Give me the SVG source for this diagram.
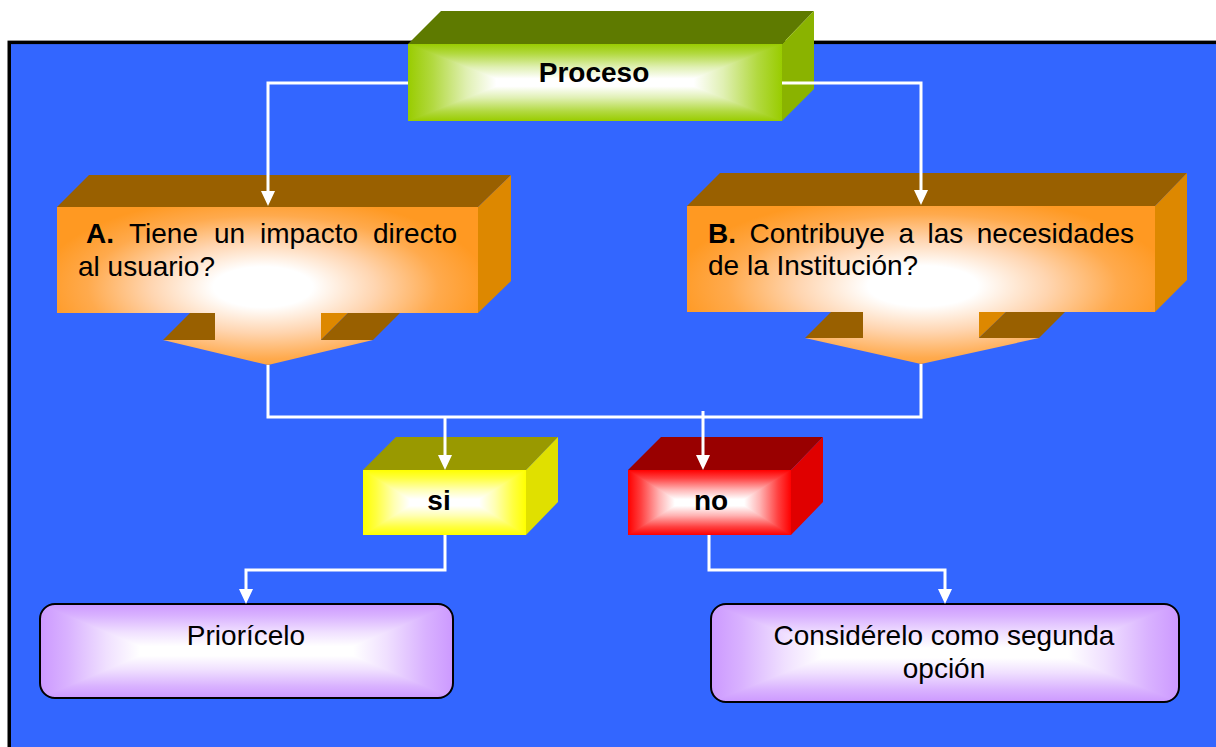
<svg xmlns="http://www.w3.org/2000/svg" width="1216" height="747" viewBox="0 0 1216 747">
  <style>
    .lbl { font-family: "Liberation Sans", Arial, Helvetica, sans-serif; font-size: 28px; fill: #000; }
    .b { font-weight: bold; }
    .mid { text-anchor: middle; }
    .wire { fill: none; stroke: #fff; stroke-width: 3; marker-end: url(#arrow); }
    .wire-plain { fill: none; stroke: #fff; stroke-width: 3; }
    .pill { fill: none; stroke: #000; stroke-width: 2; }
  </style>
  <defs>
    <marker id="arrow" markerUnits="userSpaceOnUse" markerWidth="15" markerHeight="14" viewBox="0 0 15 14" refX="11" refY="7" orient="auto">
      <path d="M0,0 L15,7 L0,14 Z" fill="#fff"/>
    </marker>

    <!-- green block -->
    <linearGradient id="gGreenH" x1="0" y1="0" x2="1" y2="0">
      <stop offset="0" stop-color="#99CC00"/><stop offset="0.066" stop-color="#B2D940"/><stop offset="0.157" stop-color="#E0F0B3"/><stop offset="0.236" stop-color="#FFFFFF"/>
      <stop offset="0.764" stop-color="#FFFFFF"/><stop offset="0.843" stop-color="#E0F0B3"/><stop offset="0.934" stop-color="#B2D940"/><stop offset="1" stop-color="#99CC00"/>
    </linearGradient>
    <linearGradient id="gGreenDown" x1="0" y1="0" x2="0" y2="1">
      <stop offset="0" stop-color="#99CC00"/><stop offset="0.25" stop-color="#B2D940"/><stop offset="0.6" stop-color="#E0F0B3"/><stop offset="0.9" stop-color="#FFFFFF"/>
    </linearGradient>
    <linearGradient id="gGreenUp" href="#gGreenDown" x1="0" y1="1" x2="0" y2="0"/>

    <!-- yellow block -->
    <linearGradient id="gYellowH" x1="0" y1="0" x2="1" y2="0">
      <stop offset="0" stop-color="#FFFF00"/><stop offset="0.080" stop-color="#FFFF40"/><stop offset="0.191" stop-color="#FFFFB3"/><stop offset="0.287" stop-color="#FFFFFF"/>
      <stop offset="0.713" stop-color="#FFFFFF"/><stop offset="0.809" stop-color="#FFFFB3"/><stop offset="0.920" stop-color="#FFFF40"/><stop offset="1" stop-color="#FFFF00"/>
    </linearGradient>
    <linearGradient id="gYellowDown" x1="0" y1="0" x2="0" y2="1">
      <stop offset="0" stop-color="#FFFF00"/><stop offset="0.25" stop-color="#FFFF40"/><stop offset="0.6" stop-color="#FFFFB3"/><stop offset="0.9" stop-color="#FFFFFF"/>
    </linearGradient>
    <linearGradient id="gYellowUp" href="#gYellowDown" x1="0" y1="1" x2="0" y2="0"/>

    <!-- red block -->
    <linearGradient id="gRedH" x1="0" y1="0" x2="1" y2="0">
      <stop offset="0" stop-color="#FF0000"/><stop offset="0.080" stop-color="#FF4040"/><stop offset="0.191" stop-color="#FFB3B3"/><stop offset="0.287" stop-color="#FFFFFF"/>
      <stop offset="0.713" stop-color="#FFFFFF"/><stop offset="0.809" stop-color="#FFB3B3"/><stop offset="0.920" stop-color="#FF4040"/><stop offset="1" stop-color="#FF0000"/>
    </linearGradient>
    <linearGradient id="gRedDown" x1="0" y1="0" x2="0" y2="1">
      <stop offset="0" stop-color="#FF0000"/><stop offset="0.25" stop-color="#FF4040"/><stop offset="0.6" stop-color="#FFB3B3"/><stop offset="0.9" stop-color="#FFFFFF"/>
    </linearGradient>
    <linearGradient id="gRedUp" href="#gRedDown" x1="0" y1="1" x2="0" y2="0"/>

    <!-- lavender outcome boxes -->
    <linearGradient id="gLavH1" x1="0" y1="0" x2="1" y2="0">
      <stop offset="0" stop-color="#CC99FF"/><stop offset="0.067" stop-color="#D9B2FF"/><stop offset="0.161" stop-color="#F0E0FF"/><stop offset="0.242" stop-color="#FFFFFF"/>
      <stop offset="0.758" stop-color="#FFFFFF"/><stop offset="0.839" stop-color="#F0E0FF"/><stop offset="0.933" stop-color="#D9B2FF"/><stop offset="1" stop-color="#CC99FF"/>
    </linearGradient>
    <linearGradient id="gLavH2" x1="0" y1="0" x2="1" y2="0">
      <stop offset="0" stop-color="#CC99FF"/><stop offset="0.066" stop-color="#D9B2FF"/><stop offset="0.158" stop-color="#F0E0FF"/><stop offset="0.237" stop-color="#FFFFFF"/>
      <stop offset="0.763" stop-color="#FFFFFF"/><stop offset="0.842" stop-color="#F0E0FF"/><stop offset="0.934" stop-color="#D9B2FF"/><stop offset="1" stop-color="#CC99FF"/>
    </linearGradient>
    <linearGradient id="gLavDown" x1="0" y1="0" x2="0" y2="1">
      <stop offset="0" stop-color="#CC99FF"/><stop offset="0.25" stop-color="#D9B2FF"/><stop offset="0.6" stop-color="#F0E0FF"/><stop offset="0.9" stop-color="#FFFFFF"/>
    </linearGradient>
    <linearGradient id="gLavUp" href="#gLavDown" x1="0" y1="1" x2="0" y2="0"/>

    <!-- orange question blocks -->
    <radialGradient id="gOrangeA" gradientUnits="userSpaceOnUse" cx="0" cy="0" r="1" gradientTransform="translate(263 287) scale(225 92)">
      <stop offset="0" stop-color="#FFFFFF"/><stop offset="0.22" stop-color="#FFFFFF"/><stop offset="0.5" stop-color="#FFD5B0"/><stop offset="0.78" stop-color="#FFAA4D"/><stop offset="1" stop-color="#FF9922"/>
    </radialGradient>
    <radialGradient id="gOrangeB" href="#gOrangeA" gradientTransform="translate(923 286) scale(250 92)"/>

    <clipPath id="clipPrio"><rect x="40" y="604" width="413" height="94" rx="15"/></clipPath>
    <clipPath id="clipCons"><rect x="711" y="604" width="468" height="98" rx="15"/></clipPath>
  </defs>

  <!-- page -->
  <rect x="0" y="0" width="1216" height="747" fill="#fff"/>
  <rect x="9.25" y="42.35" width="1215" height="712" fill="#3366FF" stroke="#000" stroke-width="3.5"/>

  <!-- Proceso -->
  <g id="proceso">
    <polygon points="408,44 441,11 814,11 782,44" fill="#5E7A00"/>
    <polygon points="782,44 814,11 814,89 782,121" fill="#8AB300"/>
    <rect x="408" y="44" width="374" height="77" fill="url(#gGreenH)"/>
    <polygon points="408,44 782,44 684,82.5 506,82.5" fill="url(#gGreenDown)"/>
    <polygon points="408,121 782,121 684,82.5 506,82.5" fill="url(#gGreenUp)"/>
    <text class="lbl b mid" x="594" y="82">Proceso</text>
  </g>

  <!-- A -->
  <g id="pregunta-a">
    <polygon points="57,207 89,175 511,175 478,207" fill="#996000"/>
    <polygon points="478,207 511,175 511,281 478,313" fill="#DD8800"/>
    <polygon points="163,340 190,313 215,313 215,340" fill="#996000"/>
    <polygon points="321,313 348,313 321,340" fill="#DD8800"/>
    <polygon points="321,340 348,313 400,313 373,340" fill="#996000"/>
    <path d="M57,207 H478 V313 H321 V340 H373 L268,365 L163,340 H215 V313 H57 Z" fill="url(#gOrangeA)"/>
    <text class="lbl" y="243"><tspan class="b" x="86">A.</tspan><tspan x="129">Tiene</tspan><tspan x="214">un</tspan><tspan x="260">impacto</tspan><tspan x="373">directo</tspan></text>
    <text class="lbl" x="78" y="276">al usuario?</text>
  </g>

  <!-- B -->
  <g id="pregunta-b">
    <polygon points="687,206 720,173 1187,173 1155,206" fill="#996000"/>
    <polygon points="1155,206 1187,173 1187,280 1155,312" fill="#DD8800"/>
    <polygon points="805,338 831,312 863,312 863,338" fill="#996000"/>
    <polygon points="979,312 1006,312 979,338" fill="#DD8800"/>
    <polygon points="979,338 1006,312 1065,312 1039,338" fill="#996000"/>
    <path d="M687,206 H1155 V312 H979 V338 H1039 L921,364 L805,338 H863 V312 H687 Z" fill="url(#gOrangeB)"/>
    <text class="lbl" y="243"><tspan class="b" x="708">B.</tspan><tspan x="749.5">Contribuye</tspan><tspan x="898.4">a</tspan><tspan x="927.5">las</tspan><tspan x="976.8">necesidades</tspan></text>
    <text class="lbl" x="708" y="275">de la Institución?</text>
  </g>

  <!-- si -->
  <g id="si">
    <polygon points="363,470 396,437 558,437 526,470" fill="#999900"/>
    <polygon points="526,470 558,437 558,502 526,535" fill="#E0E000"/>
    <rect x="363" y="470" width="163" height="65" fill="url(#gYellowH)"/>
    <polygon points="363,470 526,470 474,502.5 415,502.5" fill="url(#gYellowDown)"/>
    <polygon points="363,535 526,535 474,502.5 415,502.5" fill="url(#gYellowUp)"/>
    <text class="lbl b mid" x="439" y="510">si</text>
  </g>

  <!-- no -->
  <g id="no">
    <polygon points="628,470 661,437 823,437 791,470" fill="#990000"/>
    <polygon points="791,470 823,437 823,502 791,535" fill="#E00000"/>
    <rect x="628" y="470" width="163" height="65" fill="url(#gRedH)"/>
    <polygon points="628,470 791,470 739,502.5 680,502.5" fill="url(#gRedDown)"/>
    <polygon points="628,535 791,535 739,502.5 680,502.5" fill="url(#gRedUp)"/>
    <text class="lbl b mid" x="711" y="510">no</text>
  </g>

  <!-- Priorícelo -->
  <g id="priorizar">
    <g clip-path="url(#clipPrio)">
      <rect x="40" y="604" width="413" height="94" fill="url(#gLavH1)"/>
      <polygon points="40,604 453,604 342,651 151,651" fill="url(#gLavDown)"/>
      <polygon points="40,698 453,698 342,651 151,651" fill="url(#gLavUp)"/>
    </g>
    <rect class="pill" x="40" y="604" width="413" height="94" rx="15"/>
    <text class="lbl mid" x="246" y="645">Priorícelo</text>
  </g>

  <!-- Considérelo como segunda opción -->
  <g id="segunda-opcion">
    <g clip-path="url(#clipCons)">
      <rect x="711" y="604" width="468" height="98" fill="url(#gLavH2)"/>
      <polygon points="711,604 1179,604 1056,653 834,653" fill="url(#gLavDown)"/>
      <polygon points="711,702 1179,702 1056,653 834,653" fill="url(#gLavUp)"/>
    </g>
    <rect class="pill" x="711" y="604" width="468" height="98" rx="15"/>
    <text class="lbl mid" x="944" y="645">Considérelo como segunda</text>
    <text class="lbl mid" x="944" y="678">opción</text>
  </g>

  <!-- connectors -->
  <g id="connectors">
    <path class="wire" d="M408,83 H268 V202"/>
    <path class="wire" d="M782,83 H921 V201"/>
    <path class="wire-plain" d="M268,365 V417 H921 V364"/>
    <path class="wire" d="M445,417 V466"/>
    <path class="wire" d="M703,411 V466"/>
    <path class="wire" d="M445,535 V570 H246 V600"/>
    <path class="wire" d="M709,535 V570 H945 V600"/>
  </g>
</svg>
